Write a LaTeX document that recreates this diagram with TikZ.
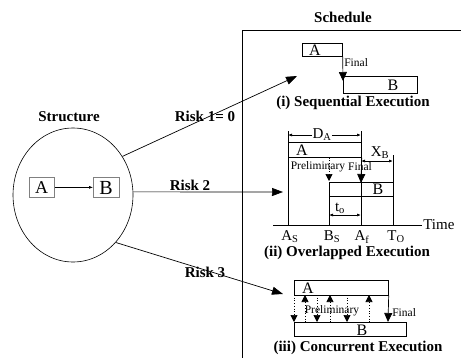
\documentclass[tikz,border=0pt]{standalone}
\usepackage{fontspec}
\setmainfont{Liberation Serif}
\usetikzlibrary{arrows.meta,shapes.geometric}
\begin{document}
\begin{tikzpicture}[x=1pt,y=-1pt,line width=0.7pt,
  lbl/.style={font=\fontsize{15}{18}\selectfont\bfseries,inner sep=0},
  sm/.style={font=\fontsize{11.5}{13}\selectfont,inner sep=0},
  let/.style={font=\fontsize{15}{18}\selectfont,inner sep=0},
  boxlet/.style={font=\fontsize{16}{18}\selectfont,inner sep=0},
  bx/.style={draw,inner sep=0,anchor=north west},
  bigtip/.style={-{Triangle[width=8pt,length=9pt]}},
  risk/.style={-{Triangle[width=8pt,length=11pt]}},
  dim/.style={-{Latex[length=4pt,width=3pt]}},
  dimb/.style={{Latex[length=4pt,width=3pt]}-{Latex[length=4pt,width=3pt]}},
  prelim/.style={dotted,-{Triangle[width=7pt,length=7pt]}}]
\useasboundingbox (0,0) rectangle (461,357);
\clip (0,0) rectangle (461,357);
% titles
\node[lbl] (tSched) at (343,17) {Schedule};
\node[lbl] (tStruct) at (69,117) {Structure};
% schedule frame
\draw[line width=1pt] (242,370) -- (242,30) -- (470,30);
% structure
\node[draw,ellipse,line width=0.6pt,minimum width=120pt,minimum height=134pt,inner sep=0] (st) at (73,195) {};
\node[bx,draw=gray,minimum width=25pt,minimum height=20pt] (stA) at (29,177) {};
\node[bx,draw=gray,minimum width=26pt,minimum height=20pt] (stB) at (93,177) {};
\node[font=\fontsize{18}{20}\selectfont,inner sep=0] (stAt) at (41.5,188) {A};
\node[font=\fontsize{20}{22}\selectfont,inner sep=0] (stBt) at (106,188) {B};
\draw[-{Latex[length=4pt,width=3pt]},line width=0.6pt] (stA.east) -- (stB.west);
% risk labels and arrows
\node[lbl] (r1) at (205,116) {Risk 1= 0};
\node[lbl] (r2) at (190,185) {Risk 2};
\node[lbl] (r3) at (205,272) {Risk 3};
\coordinate (e1) at (297,76);
\coordinate (e2) at (283,192);
\coordinate (e3) at (283,294);
\draw[risk] (st.38) -- (e1);
\draw[risk] (st.3) -- (e2);
\draw[risk] (st.-48) -- (e3);
% (i) sequential
\node[bx,minimum width=40pt,minimum height=13pt] (sA) at (302,43) {};
\node[boxlet] (sAt) at (315,50) {A};
\node[bx,minimum width=74pt,minimum height=17pt] (sB) at (343,76) {};
\node[boxlet] (sBt) at (393,85) {B};
\draw[bigtip] (sA.south east) -- ([yshift=-5pt]sB.north west);
\node[sm,anchor=west] (sFin) at (344,63) {Final};
\node[lbl] (cap1) at (353,103) {(i) Sequential Execution};
% (ii) overlapped
\coordinate (As) at (288,131);
\coordinate (Af) at (361,131);
\node[bx,minimum width=73pt,minimum height=15pt] (oA) at (288,142) {};
\node[boxlet] (oAt) at (302,150) {A};
\draw (As) -- (288,225);
\draw (Af) -- (361,225);
\node[let] (DA) at (322,135) {D\textsubscript{A}};
\draw[dim] (DA.west) -- (288,135);
\draw[dim] (DA.east) -- (361,135);
\node[let] (XB) at (380,153) {X\textsubscript{B}};
\coordinate (XBr) at (393,161);
\draw[dimb] (361,161) -- (XBr);
\draw (393,155) -- (393,225);
\node[sm] (oPre) at (318,167) {Preliminary};
\node[sm] (oFin) at (360,167) {Final};
\coordinate (Bs) at (329,182);
\draw (Bs) -- (393,182);
\draw (329,196) -- (393,196);
\node[boxlet] (oBt) at (378,189) {B};
\draw (Bs) -- (329,225);
\draw[prelim] (oA.south west -| Bs) -- ([yshift=1pt]Bs);
\draw[bigtip] (oA.south east) -- (361,183);
\node[let] (to) at (340,208) {t\textsubscript{o}};
\draw[dimb] (329,215) -- (361,215);
\node[inner sep=0] (axL) at (273,225) {};
\node[let,anchor=west,inner sep=1pt] (time) at (422,225) {Time};
\draw (axL.center) -- (time.west);
\node[let] (lAs) at (290,237) {A\textsubscript{S}};
\node[let] (lBs) at (332,237) {B\textsubscript{S}};
\node[let] (lAf) at (362,237) {A\textsubscript{f}};
\node[let] (lTo) at (396,237) {T\textsubscript{O}};
\node[lbl] (cap2) at (347,253) {(ii) Overlapped Execution};
% (iii) concurrent
\node[bx,minimum width=94pt,minimum height=15pt] (cA) at (294,280) {};
\node[boxlet] (cAt) at (308,288) {A};
\node[bx,minimum width=112pt,minimum height=14pt] (cB) at (294,322) {};
\node[boxlet] (cBt) at (362,330) {B};
\node[sm] (cPre) at (332,311) {Preliminary};
\node[sm,anchor=west] (cFin) at (392,313) {Final};
\foreach \x in {294,317,347} \draw[prelim] (\x,295) -- (\x,322);
\foreach \x in {305,330,369} \draw[prelim] (\x,322) -- (\x,295);
\draw[bigtip] (cA.south east) -- (388,322);
\node[lbl] (cap3) at (358,348) {(iii) Concurrent Execution};
\end{tikzpicture}
\end{document}
